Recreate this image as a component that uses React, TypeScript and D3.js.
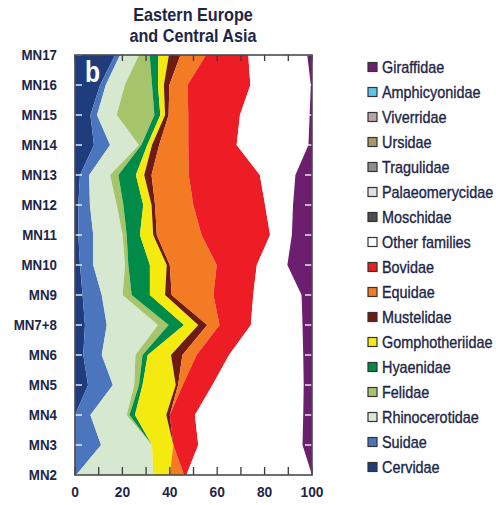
import React from "react";
import * as d3 from "d3";

const stages = ["MN2","MN3","MN4","MN5","MN6","MN7+8","MN9","MN10","MN11","MN12","MN13","MN14","MN15","MN16","MN17"];

const cervidae = [0,0,0,5.5,3.5,4.2,3.2,2.1,1.4,1.4,2.1,8,6.5,10.6,16.9];
const suidae = [0.5,11,6.5,10.5,7.8,9.2,8.1,5.6,6.3,4.9,3.9,6.8,2.8,2.4,2.1];
const rhinocerotidae = [32.5,21.5,15.3,9,14.2,21.6,8.8,13.4,12.4,11.3,8.8,12.2,8.3,8,8];
const felidae = [0,0,1.2,2,3,4.5,3.8,1.4,1.7,2.8,3.5,1,15.9,11.5,4.5];
const hyaenidae = [0,0,2.3,1.5,2.2,6.5,7.7,9.1,5.6,8.4,7.4,2.5,2.5,2.5,3.7];
const gomphotheriidae = [7,9,13.2,14,9.8,6,6.4,7.1,5.6,3.5,3.5,2,2,2.5,4.4];
const mustelidae = [0,0,1.5,1,4.8,3.8,2.8,1.3,1.5,1.5,3.1,3,1.5,2.3,4.9];
const equidae = [6,0,0,2,6,5.2,17.6,19.8,18.9,16.1,15.7,12.3,8.3,7.7,10.8];
const bovidae = [1,10.5,10.6,12.5,13.7,13.2,16.8,16.9,28.9,30.3,30,20.4,21.8,26.5,17.8];
const otherFamilies = [53,44,45.7,38.5,31.3,21.8,20.4,12.9,9.2,11.8,15,30.3,29.4,25.5,24.9];
const moschidae = [0,0,0,0,0,0,0,0,0,0,0,0,0,0,0];
const palaeomerycidae = [0,0,0,0,0,0,0,0,0,0,0,0,0,0,0];
const tragulidae = [0,0,0,0,0,0,0,0,0,0,0,0,0,0,0];
const ursidae = [0,0,0,0,0,0,0,0,0,0,0,0,0,0,0];
const viverridae = [0,0,0,0,0,0,0,0,0,0,0,0,0,0,0];
const amphicyonidae = [0,0,0,0,0,0,0,0,0,0,0,0,0,0,0];
const giraffidae = [0,4,3.7,3.5,3.7,4,4.4,10.4,8.5,8,7,1.5,1,0.5,2];

const xTicks = [0,10,20,30,40,50,60,70,80,90,100];
const xTickLabels = [0,20,40,60,80,100];

// stacking order: left (first) to right (last)
const families = [
  { name: "Cervidae", values: cervidae, color: "#1f3c7c" },
  { name: "Suidae", values: suidae, color: "#4b75bd" },
  { name: "Rhinocerotidae", values: rhinocerotidae, color: "#d6e9d0" },
  { name: "Felidae", values: felidae, color: "#a6c46a" },
  { name: "Hyaenidae", values: hyaenidae, color: "#008c48" },
  { name: "Gomphotheriidae", values: gomphotheriidae, color: "#f5ea10" },
  { name: "Mustelidae", values: mustelidae, color: "#6e1b13" },
  { name: "Equidae", values: equidae, color: "#f27b23" },
  { name: "Bovidae", values: bovidae, color: "#ed1c25" },
  { name: "Other families", values: otherFamilies, color: "#ffffff" },
  { name: "Moschidae", values: moschidae, color: "#4d4d4f" },
  { name: "Palaeomerycidae", values: palaeomerycidae, color: "#e1e1e1" },
  { name: "Tragulidae", values: tragulidae, color: "#8d8d8f" },
  { name: "Ursidae", values: ursidae, color: "#a99767" },
  { name: "Viverridae", values: viverridae, color: "#b9a3a6" },
  { name: "Amphicyonidae", values: amphicyonidae, color: "#5cc5ee" },
  { name: "Giraffidae", values: giraffidae, color: "#6c1f6e" },
];

const W = 496, H = 505;
const left = 75, right = 312, top = 55, bottom = 475;
const textColor = "#1d2647";
const sans = "'Liberation Sans', Arial, sans-serif";

function NText(props: { x: number; y: number; sx: number; anchor?: string; size: number; bold?: boolean; fill: string; stroke?: string; children: React.ReactNode }) {
  return (
    <text
      transform={`translate(${props.x},${props.y}) scale(${props.sx},1)`}
      textAnchor={props.anchor || "start"}
      fontFamily={sans}
      fontWeight={props.bold ? "bold" : "normal"}
      fontSize={props.size}
      fill={props.fill}
      stroke={props.stroke || "none"}
      strokeWidth={props.stroke ? 0.35 : 0}
    >
      {props.children}
    </text>
  );
}

export default function App() {
  const x = d3.scaleLinear().domain([0, 100]).range([left, right]);
  const y = d3.scalePoint<string>().domain(stages).range([bottom, top]);

  const table = stages.map((s, i) => {
    const row: any = { stage: s };
    families.forEach(f => { row[f.name] = f.values[i]; });
    return row;
  });
  const stack = d3.stack<any>().keys(families.map(f => f.name)).offset(d3.stackOffsetNone);
  const series = stack(table);
  const area = d3.area<any>()
    .y(d => y(d.data.stage) as number)
    .x0(d => x(d[0]))
    .x1(d => x(d[1]))
    .curve(d3.curveLinear);

  const legendItems = [...families].reverse();

  return (
    <svg width={W} height={H} style={{ position: "absolute", left: 0, top: 0, background: "#fff" }}>
      <NText x={193} y={21} sx={0.9} anchor="middle" size={18} bold fill={textColor}>Eastern Europe</NText>
      <NText x={193} y={42} sx={0.9} anchor="middle" size={18} bold fill={textColor}>and Central Asia</NText>

      <g>
        {series.map((s, i) => (
          <path key={s.key} d={area(s) || ""} fill={families[i].color} stroke="none" />
        ))}
      </g>

      {stages.map(s => (
        <g key={s}>
          <line x1={left} x2={left + 7} y1={y(s)} y2={y(s)} stroke="#fff" strokeWidth={1.3} />
          <line x1={right - 7} x2={right} y1={y(s)} y2={y(s)} stroke="#fff" strokeWidth={1.3} />
        </g>
      ))}
      {xTicks.map(t => (
        <g key={t}>
          <line x1={x(t)} x2={x(t)} y1={bottom} y2={bottom - 8} stroke="#3a3a3a" strokeWidth={1.3} />
          <line x1={x(t)} x2={x(t)} y1={top} y2={top + 6} stroke="#3a3a3a" strokeWidth={1.3} />
        </g>
      ))}
      <rect x={left} y={top} width={right - left} height={bottom - top} fill="none" stroke="#4a4a4a" strokeWidth={1.6} />

      <NText x={85} y={82} sx={0.85} size={29} bold fill="#fff">b</NText>

      {stages.map(s => (
        <NText key={s} x={57} y={(y(s) as number) + 5} sx={0.92} anchor="end" size={14.5} bold fill={textColor}>{s}</NText>
      ))}
      {xTickLabels.map(t => (
        <NText key={t} x={x(t)} y={497} sx={0.95} anchor="middle" size={14.5} bold fill={textColor}>{t}</NText>
      ))}

      {legendItems.map((f, i) => (
        <g key={f.name}>
          <rect x={368} y={62.5 + i * 25} width={9} height={9} fill={f.color} stroke="#333" strokeWidth={1.2} />
          <NText x={382} y={72.5 + i * 25} sx={0.9} size={16} fill={textColor} stroke={textColor}>{f.name}</NText>
        </g>
      ))}
    </svg>
  );
}
